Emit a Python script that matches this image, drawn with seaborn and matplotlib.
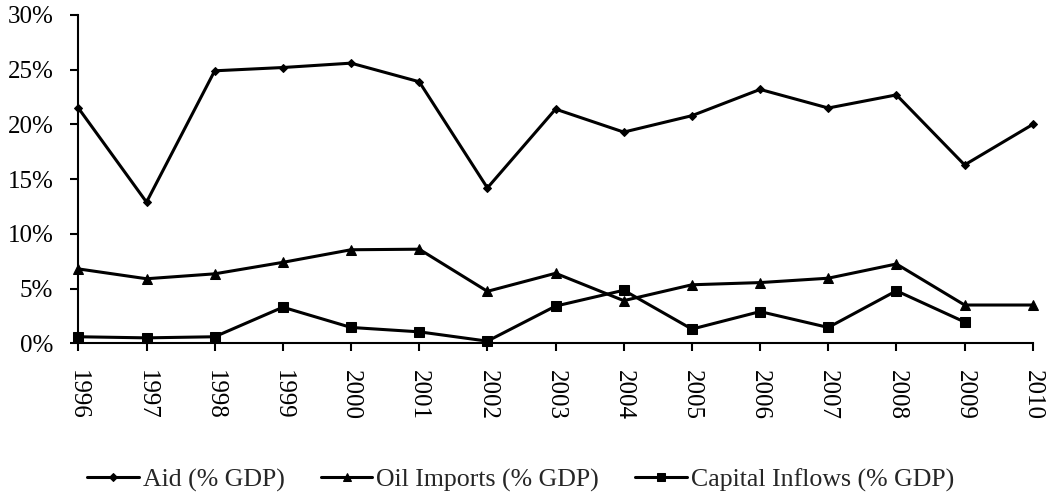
import matplotlib
matplotlib.use("Agg")
from matplotlib import pyplot as plt
from matplotlib.ticker import PercentFormatter
import seaborn as sns
import numpy as np
import pandas as pd

# values (percent of GDP)
years = list(range(1996, 2011))
aid = [21.5, 12.9, 24.9, 25.2, 25.6, 23.9, 14.2, 21.4, 19.3, 20.8, 23.2, 21.5, 22.7, 16.3, 20.0]
oil = [6.8, 5.9, 6.35, 7.4, 8.55, 8.6, 4.75, 6.4, 3.9, 5.35, 5.55, 5.95, 7.25, 3.5, 3.5]
capital = [0.6, 0.5, 0.6, 3.3, 1.45, 1.05, 0.2, 3.4, 4.85, 1.3, 2.9, 1.45, 4.8, 1.95, np.nan]
names = ["Aid (% GDP)", "Oil Imports (% GDP)", "Capital Inflows (% GDP)"]

df = pd.DataFrame({"year": years, names[0]: aid, names[1]: oil, names[2]: capital})
long = df.melt(id_vars="year", var_name="series", value_name="value").dropna()

sns.set_style("white")
plt.rcParams["font.family"] = ["Liberation Serif", "DejaVu Serif"]
plt.rcParams["font.size"] = 18

fig = plt.figure(figsize=(10.56, 4.93), dpi=100)
ax = fig.add_axes([0.0742, 0.3036, 0.9038, 0.666])

sizes = [4.5, 7, 6.5]
sns.lineplot(data=long, x="year", y="value", hue="series", style="series",
             hue_order=names, style_order=names,
             palette=["black"] * 3, markers={names[0]: "D", names[1]: "^", names[2]: "s"},
             dashes=False, linewidth=2.2, markeredgecolor="black",
             ax=ax, legend=True)
for line, ms in zip(ax.lines[:3], sizes):
    line.set_markersize(ms)
    line.set_clip_on(False)

handles, labels = ax.get_legend_handles_labels()
ax.get_legend().remove()
for h, ms in zip(handles, [4, 6, 6]):
    h.set_markersize(ms)
fig.legend(handles, labels, loc="lower center", bbox_to_anchor=(0.493, -0.045), ncol=3,
           frameon=False, handlelength=2.0, handletextpad=0.15, columnspacing=1.4,
           fontsize=18.6)

ax.set_xlim(1996, 2010)
ax.set_ylim(0, 30)
ax.set_xticks(years)
ax.set_xticklabels([str(y) for y in years], rotation=270, ha="center", va="top")
ax.set_yticks(np.arange(0, 31, 5))
ax.yaxis.set_major_formatter(PercentFormatter(xmax=100, decimals=0))
ax.set_xlabel("")
ax.set_ylabel("")

sns.despine(ax=ax)
for s in ["left", "bottom"]:
    ax.spines[s].set_linewidth(1.5)
    ax.spines[s].set_color("black")
ax.tick_params(axis="both", direction="out", length=6, width=1.5, color="black",
               labelsize=18, labelcolor="black", bottom=True, left=True)
ax.tick_params(axis="y", pad=12)
ax.tick_params(axis="x", pad=13)
ax.grid(False)

fig.savefig("out.png", dpi=100)
